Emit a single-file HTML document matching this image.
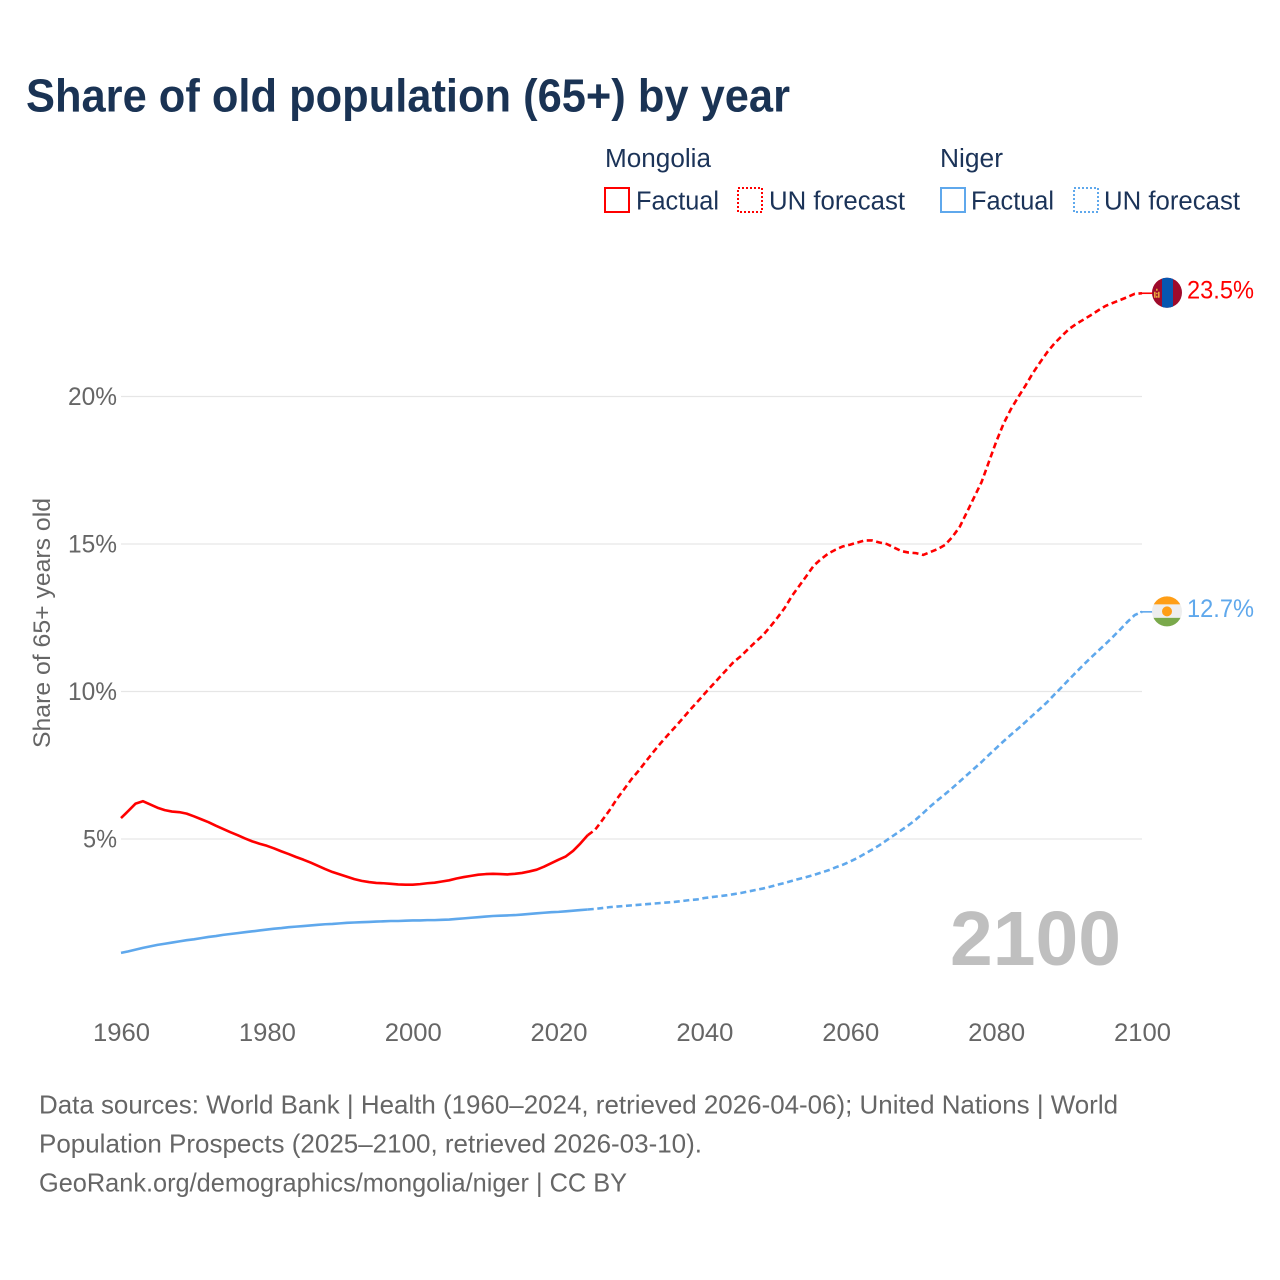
<!DOCTYPE html>
<html lang="en">
<head>
<meta charset="utf-8">
<title>Share of old population (65+) by year</title>
<style>
html,body{margin:0;padding:0;background:#fff;width:1280px;height:1280px;overflow:hidden}
svg{display:block}
text{font-family:"Liberation Sans",sans-serif}
</style>
</head>
<body>
<svg id="chart" xmlns="http://www.w3.org/2000/svg" width="1280" height="1280" viewBox="0 0 1280 1280">
  <defs>
    <clipPath id="flag-clip"><circle cx="0" cy="0" r="15"/></clipPath>
  </defs>
  <rect x="0" y="0" width="1280" height="1280" fill="#ffffff"/>
  <text x="26" y="111.5" font-size="46" font-weight="700" fill="#1a3354" textLength="764" lengthAdjust="spacingAndGlyphs">Share of old population (65+) by year</text>

  <g fill="#1b3358" font-size="25.5">
    <text x="605" y="167" textLength="106" lengthAdjust="spacingAndGlyphs">Mongolia</text>
    <text x="940" y="167" textLength="63" lengthAdjust="spacingAndGlyphs">Niger</text>
    <rect x="605" y="188" width="24" height="24" fill="none" stroke="#ff0000" stroke-width="2" shape-rendering="crispEdges"/>
    <text x="636" y="209.5" textLength="83" lengthAdjust="spacingAndGlyphs">Factual</text>
    <rect x="738" y="188" width="24" height="24" fill="none" stroke="#ff0000" stroke-width="2" stroke-dasharray="2 2" shape-rendering="crispEdges"/>
    <text x="769" y="209.5" textLength="136" lengthAdjust="spacingAndGlyphs">UN forecast</text>
    <rect x="941" y="188" width="24" height="24" fill="none" stroke="#5fa8ec" stroke-width="2" shape-rendering="crispEdges"/>
    <text x="971" y="209.5" textLength="83" lengthAdjust="spacingAndGlyphs">Factual</text>
    <rect x="1074" y="188" width="24" height="24" fill="none" stroke="#5fa8ec" stroke-width="2" stroke-dasharray="2 2" shape-rendering="crispEdges"/>
    <text x="1104" y="209.5" textLength="136" lengthAdjust="spacingAndGlyphs">UN forecast</text>
  </g>

  <text transform="translate(50 748) rotate(-90)" x="0" y="0" font-size="24" fill="#666666" textLength="250" lengthAdjust="spacingAndGlyphs">Share of 65+ years old</text>

  <g id="grid"></g>
  <g id="y-ticks"></g>
  <g id="x-ticks"></g>

  <text x="1121" y="965" text-anchor="end" font-size="77" font-weight="700" fill="#bfbfbf" textLength="171" lengthAdjust="spacingAndGlyphs">2100</text>

  <g id="series"></g>

  <g id="flag-mongolia">
    <g clip-path="url(#flag-clip)">
      <rect x="-15" y="-16" width="30" height="32" fill="#9f0a2b"/>
      <rect x="-5" y="-16" width="11" height="32" fill="#0656b0"/>
      <g fill="#e8a63c">
        <rect x="-11" y="-4" width="1.6" height="2"/>
        <rect x="-13" y="-1" width="1.6" height="6"/>
        <rect x="-9" y="-1" width="1.6" height="6"/>
        <rect x="-11" y="0" width="1.6" height="1.5"/>
        <rect x="-11" y="3" width="1.6" height="2"/>
      </g>
    </g>
  </g>
  <g id="flag-niger">
    <g clip-path="url(#flag-clip)">
      <rect x="-15" y="-16" width="30" height="32" fill="#eeeeee"/>
      <rect x="-15" y="-16" width="30" height="9" fill="#ff9e16"/>
      <rect x="-15" y="6.5" width="30" height="10" fill="#7aa94b"/>
      <circle cx="0" cy="0" r="5" fill="#ff9e16"/>
    </g>
  </g>

  <text id="label-mongolia" x="1187" font-size="25" fill="#ff0000" textLength="67" lengthAdjust="spacingAndGlyphs"></text>
  <text id="label-niger" x="1187" font-size="25" fill="#5fa8ec" textLength="67" lengthAdjust="spacingAndGlyphs"></text>

  <g fill="#666666" font-size="26">
    <text x="39" y="1113.5" textLength="1079" lengthAdjust="spacingAndGlyphs">Data sources: World Bank | Health (1960–2024, retrieved 2026-04-06); United Nations | World</text>
    <text x="39" y="1152.5" textLength="663" lengthAdjust="spacingAndGlyphs">Population Prospects (2025–2100, retrieved 2026-03-10).</text>
    <text x="39" y="1191.5" textLength="588" lengthAdjust="spacingAndGlyphs">GeoRank.org/demographics/mongolia/niger | CC BY</text>
  </g>
</svg>
<script>
var firstYear = 1960;
var xTickYears = [1960, 1980, 2000, 2020, 2040, 2060, 2080, 2100];
var yTickValues = [5, 10, 15, 20];
var mongoliaFactual = [5.71,5.95,6.20,6.28,6.17,6.06,5.98,5.93,5.91,5.86,5.77,5.67,5.57,5.45,5.34,5.23,5.13,5.02,4.92,4.84,4.77,4.68,4.58,4.49,4.39,4.30,4.20,4.09,3.98,3.88,3.80,3.72,3.64,3.58,3.54,3.51,3.50,3.48,3.46,3.45,3.45,3.47,3.50,3.52,3.56,3.60,3.66,3.71,3.75,3.79,3.81,3.82,3.81,3.80,3.82,3.85,3.90,3.96,4.06,4.18,4.30,4.41,4.60,4.85,5.13];
var mongoliaForecast = [5.31,5.64,5.98,6.36,6.69,7.03,7.32,7.64,7.95,8.25,8.53,8.80,9.08,9.37,9.64,9.92,10.19,10.46,10.73,11.00,11.20,11.44,11.68,11.90,12.19,12.50,12.83,13.24,13.58,13.92,14.27,14.49,14.68,14.81,14.92,14.98,15.05,15.12,15.12,15.05,15.00,14.88,14.76,14.71,14.69,14.63,14.73,14.83,14.97,15.24,15.58,16.08,16.59,17.10,17.78,18.46,19.07,19.56,19.97,20.36,20.78,21.15,21.50,21.80,22.05,22.29,22.46,22.61,22.76,22.92,23.07,23.17,23.27,23.37,23.48,23.50];
var nigerFactual = [1.14,1.19,1.25,1.31,1.36,1.41,1.45,1.49,1.53,1.57,1.60,1.64,1.68,1.71,1.75,1.78,1.81,1.84,1.87,1.90,1.93,1.96,1.98,2.01,2.03,2.05,2.07,2.09,2.11,2.12,2.14,2.16,2.17,2.18,2.19,2.20,2.21,2.22,2.22,2.23,2.24,2.24,2.25,2.25,2.26,2.27,2.29,2.31,2.33,2.35,2.37,2.39,2.40,2.41,2.42,2.44,2.46,2.48,2.50,2.52,2.53,2.55,2.57,2.59,2.61];
var nigerForecast = [2.63,2.66,2.69,2.71,2.73,2.75,2.77,2.79,2.81,2.83,2.85,2.87,2.90,2.93,2.95,3.00,3.03,3.06,3.09,3.13,3.17,3.22,3.27,3.32,3.38,3.45,3.51,3.58,3.65,3.71,3.78,3.86,3.94,4.04,4.13,4.24,4.36,4.50,4.64,4.79,4.96,5.13,5.30,5.47,5.66,5.88,6.11,6.32,6.52,6.73,6.95,7.17,7.39,7.61,7.85,8.08,8.31,8.53,8.74,8.96,9.19,9.41,9.64,9.90,10.15,10.41,10.66,10.91,11.15,11.38,11.61,11.85,12.10,12.36,12.59,12.70];

var NS = 'http://www.w3.org/2000/svg';
function xScale(year) { return 121 + (year - 1960) * (1021 / 140); }
function yScale(v) { return 986.5 - v * 29.5; }

var gridGroup = document.getElementById('grid');
var yGroup = document.getElementById('y-ticks');
var xGroup = document.getElementById('x-ticks');
var seriesGroup = document.getElementById('series');

yTickValues.forEach(function (v) {
  var line = document.createElementNS(NS, 'line');
  
  
  line.setAttribute('x1', xScale(1960));
  line.setAttribute('x2', xScale(2100));
  line.setAttribute('y1', yScale(v));
  line.setAttribute('y2', yScale(v));
  line.setAttribute('stroke', '#e6e6e6');
  line.setAttribute('stroke-width', '1.2');
  gridGroup.appendChild(line);

  var label = document.createElementNS(NS, 'text');
  
  
  label.setAttribute('x', 117);
  label.setAttribute('y', yScale(v) + 8.5);
  label.setAttribute('text-anchor', 'end');
  label.setAttribute('font-size', '25');
  label.setAttribute('fill', '#666666');
  label.setAttribute('textLength', v < 10 ? '34' : '49');
  label.setAttribute('lengthAdjust', 'spacingAndGlyphs');
  label.textContent = v + '%';
  yGroup.appendChild(label);
});

xTickYears.forEach(function (year) {
  var label = document.createElementNS(NS, 'text');
  
  
  label.setAttribute('x', xScale(year) + 0.5);
  label.setAttribute('y', 1041);
  label.setAttribute('text-anchor', 'middle');
  label.setAttribute('font-size', '25');
  label.setAttribute('fill', '#666666');
  label.setAttribute('textLength', '57');
  label.setAttribute('lengthAdjust', 'spacingAndGlyphs');
  label.textContent = String(year);
  xGroup.appendChild(label);
});

function pointsFrom(values, startYear) {
  return values.map(function (v, i) {
    return xScale(startYear + i).toFixed(2) + ',' + yScale(v).toFixed(2);
  }).join(' ');
}

function drawSeries(key, color, factual, forecast) {
  var solid = document.createElementNS(NS, 'polyline');
  
  
  solid.setAttribute('points', pointsFrom(factual, firstYear));
  solid.setAttribute('fill', 'none');
  solid.setAttribute('stroke', color);
  solid.setAttribute('stroke-width', '2.6');
  solid.setAttribute('stroke-linejoin', 'round');
  seriesGroup.appendChild(solid);

  var lastYear = firstYear + factual.length - 1;
  var joined = [factual[factual.length - 1]].concat(forecast);
  var dashed = document.createElementNS(NS, 'polyline');
  
  
  dashed.setAttribute('points', pointsFrom(joined, lastYear));
  dashed.setAttribute('fill', 'none');
  dashed.setAttribute('stroke', color);
  dashed.setAttribute('stroke-width', '2.6');
  dashed.setAttribute('stroke-linejoin', 'round');
  dashed.setAttribute('stroke-dasharray', '6 3.6');
  seriesGroup.appendChild(dashed);

  var endValue = forecast[forecast.length - 1];
  var stub = document.createElementNS(NS, 'line');
  
  
  stub.setAttribute('x1', xScale(2100) - 2);
  stub.setAttribute('x2', xScale(2100) + 12);
  stub.setAttribute('y1', yScale(endValue));
  stub.setAttribute('y2', yScale(endValue));
  stub.setAttribute('stroke', color);
  stub.setAttribute('stroke-width', '1.6');
  seriesGroup.appendChild(stub);

  document.getElementById('flag-' + key).setAttribute('transform', 'translate(1167 ' + (yScale(endValue) - 0.5).toFixed(2) + ')');
  var label = document.getElementById('label-' + key);
  label.setAttribute('y', (yScale(endValue) + 5).toFixed(2));
  label.textContent = endValue.toFixed(1) + '%';
}

drawSeries('mongolia', '#ff0000', mongoliaFactual, mongoliaForecast);
drawSeries('niger', '#5fa8ec', nigerFactual, nigerForecast);
</script>
</body>
</html>
